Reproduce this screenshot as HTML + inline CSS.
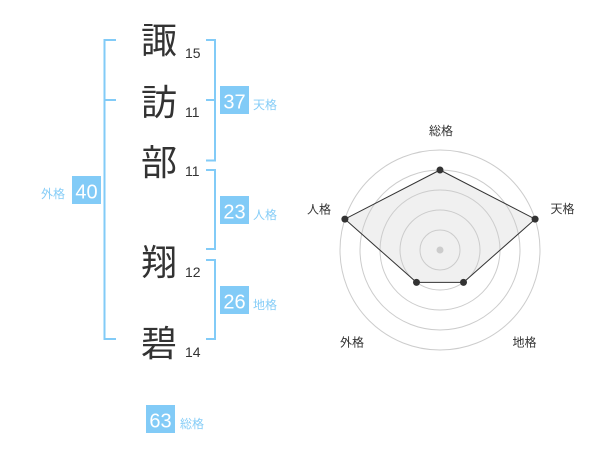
<!DOCTYPE html>
<html>
<head>
<meta charset="utf-8">
<style>
  html, body { margin: 0; padding: 0; background: #ffffff; }
  svg { display: block; }
  .kanji { font-family: "Liberation Sans", "Noto Sans CJK JP", sans-serif; font-size: 36px; fill: #333333; }
  .stroke { font-family: "Liberation Sans", sans-serif; font-size: 14px; fill: #333333; }
  .boxnum { font-family: "Liberation Sans", sans-serif; font-size: 20px; fill: #ffffff; }
  .lbl { font-family: "Liberation Sans", "Noto Sans CJK JP", sans-serif; font-size: 12px; fill: #86cdf7; }
  .rlbl { font-family: "Liberation Sans", "Noto Sans CJK JP", sans-serif; font-size: 12px; fill: #333333; }
</style>
</head>
<body>
<svg width="600" height="470" viewBox="0 0 600 470" xmlns="http://www.w3.org/2000/svg">
  <g stroke="#82cbf7" stroke-width="2" fill="none">
    <polyline points="116,40 104.5,40 104.5,339 116,339"/>
    <line x1="104.5" y1="100" x2="116" y2="100"/>
    <polyline points="206,40 215,40 215,160.5 206,160.5"/>
    <line x1="206" y1="100" x2="215" y2="100"/>
    <polyline points="206,170 215,170 215,249 206,249"/>
    <polyline points="206,260 215,260 215,339 206,339"/>
  </g>

  <text class="kanji" x="159" y="53" text-anchor="middle">諏</text>
  <text class="kanji" x="159" y="115" text-anchor="middle">訪</text>
  <text class="kanji" x="159" y="175" text-anchor="middle">部</text>
  <text class="kanji" x="159" y="275" text-anchor="middle">翔</text>
  <text class="kanji" x="159" y="356" text-anchor="middle">碧</text>

  <text class="stroke" x="185" y="58">15</text>
  <text class="stroke" x="185" y="117">11</text>
  <text class="stroke" x="185" y="176">11</text>
  <text class="stroke" x="185" y="277">12</text>
  <text class="stroke" x="185" y="357">14</text>

  <g fill="#82cbf7">
    <rect x="220" y="86" width="29" height="28"/>
    <rect x="220" y="196" width="29" height="28"/>
    <rect x="220" y="286" width="29" height="28"/>
    <rect x="72" y="176" width="29" height="28"/>
    <rect x="146" y="405" width="29" height="28"/>
  </g>
  <text class="boxnum" x="234.5" y="108.5" text-anchor="middle">37</text>
  <text class="boxnum" x="234.5" y="218.5" text-anchor="middle">23</text>
  <text class="boxnum" x="234.5" y="308.5" text-anchor="middle">26</text>
  <text class="boxnum" x="86.5" y="198.5" text-anchor="middle">40</text>
  <text class="boxnum" x="160.5" y="427.5" text-anchor="middle">63</text>

  <text class="lbl" x="253" y="109">天格</text>
  <text class="lbl" x="253" y="219">人格</text>
  <text class="lbl" x="253" y="309">地格</text>
  <text class="lbl" x="41" y="198">外格</text>
  <text class="lbl" x="180" y="428">総格</text>

  <polygon points="440,170 535.1,219.1 463.5,282.4 416.5,282.4 344.9,219.1" fill="#f0f0f0" stroke="none"/>
  <g stroke="#cccccc" stroke-width="1" fill="none">
    <circle cx="440" cy="250" r="20"/>
    <circle cx="440" cy="250" r="40"/>
    <circle cx="440" cy="250" r="60"/>
    <circle cx="440" cy="250" r="80"/>
    <circle cx="440" cy="250" r="100"/>
  </g>
  <polygon points="440,170 535.1,219.1 463.5,282.4 416.5,282.4 344.9,219.1" fill="none" stroke="#333333" stroke-width="1"/>
  <circle cx="440" cy="250" r="3.5" fill="#cccccc"/>
  <g fill="#333333">
    <circle cx="440" cy="170" r="3.5"/>
    <circle cx="535.1" cy="219.1" r="3.5"/>
    <circle cx="463.5" cy="282.4" r="3.5"/>
    <circle cx="416.5" cy="282.4" r="3.5"/>
    <circle cx="344.9" cy="219.1" r="3.5"/>
  </g>

  <text class="rlbl" x="441" y="135" text-anchor="middle">総格</text>
  <text class="rlbl" x="562.5" y="213" text-anchor="middle">天格</text>
  <text class="rlbl" x="319" y="213.5" text-anchor="middle">人格</text>
  <text class="rlbl" x="352" y="346.5" text-anchor="middle">外格</text>
  <text class="rlbl" x="524.5" y="346.5" text-anchor="middle">地格</text>
</svg>
</body>
</html>
